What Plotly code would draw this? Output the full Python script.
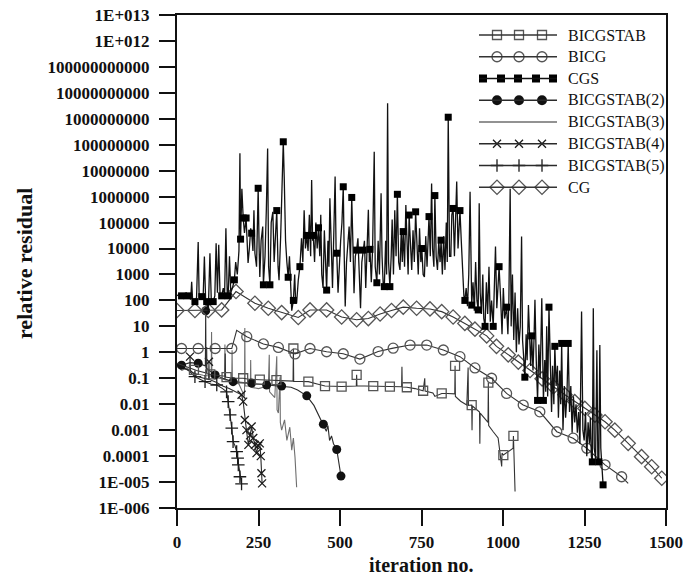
import plotly.graph_objects as go

# ---------------- data ----------------
cg_it = [0, 55, 96, 137, 181, 239, 280, 321, 372, 408, 459, 505, 551, 587, 623, 658, 694, 735, 776, 812,
         847, 883, 914, 950, 980, 1016, 1047, 1083, 1120, 1155, 1190, 1220, 1251, 1282, 1313, 1343, 1384, 1425, 1456, 1487]
cg_val = [41, 41, 41, 43, 220, 78, 50, 34, 22, 43, 43, 23, 18, 20, 30, 41, 55, 50, 47, 37,
          23, 13, 7.8, 4.3, 1.7, 0.8, 0.42, 0.2, 0.095, 0.047, 0.023, 0.0126, 0.0069, 0.0038, 0.0021, 0.001, 0.00031, 9.5e-5, 3.9e-5, 1.4e-5]
cg_marks = cg_it

bicg_it = [0, 14, 65, 117, 168, 183, 214, 265, 311, 362, 408, 459, 510, 561, 617, 663, 715, 766, 817, 868,
           914, 965, 1011, 1062, 1113, 1165, 1215, 1257, 1313, 1364, 1384]
bicg_val = [1.4, 1.4, 1.4, 1.4, 1.4, 7.0, 4.0, 2.1, 1.55, 0.87, 1.4, 1.05, 0.88, 0.55, 1.07, 1.45, 1.9, 1.9, 1.23, 0.68,
            0.25, 0.1, 0.026, 0.0093, 0.0051, 0.00087, 0.00049, 0.0002, 4.6e-5, 1.6e-5, 8.9e-6]
bicg_marks = [14, 65, 117, 168, 214, 265, 311, 362, 408, 459, 510, 561, 617, 663, 715, 766, 817, 868,
              914, 965, 1011, 1062, 1113, 1165, 1215, 1257, 1313, 1364]

bst_it = [0, 30, 52, 60, 90, 91, 92, 102, 120, 147,
          148, 149, 152, 175, 203, 225, 254, 280, 305, 330,
          356, 357, 358, 380, 403, 430, 454, 480, 505, 550,
          551, 552, 575, 602, 630, 653, 689, 690, 691, 705,
          730, 755, 760, 761, 785, 791, 812, 830, 852, 853,
          854, 870, 889, 893, 894, 904, 905, 906, 928, 929,
          930, 954, 955, 956, 970, 985, 996, 997, 1001, 1015,
          1031, 1032, 1033, 1037]
bst_val = [0.38, 0.28, 0.21, 0.2, 0.16, 1.6, 0.15, 0.14, 0.13, 0.12,
           0.9, 0.11, 0.11, 0.1, 0.1, 0.09, 0.088, 0.085, 0.085, 0.08,
           0.078, 1.4, 0.076, 0.075, 0.074, 0.06, 0.05, 0.049, 0.048, 0.05,
           0.135, 0.05, 0.05, 0.05, 0.048, 0.048, 0.047, 0.28, 0.046, 0.045,
           0.04, 0.033, 0.1, 0.032, 0.027, 0.02, 0.026, 0.026, 0.025, 0.3,
           0.02, 0.013, 0.0093, 0.26, 0.009, 0.0093, 0.001, 0.0085, 0.005, 0.0003,
           0.0045, 0.002, 0.068, 0.0015, 0.00087, 0.0005, 4e-5, 0.00013, 0.00011, 0.00015,
           0.0002, 0.0006, 0.0002, 4.3e-6]
bst_marks = [52, 102, 152, 203, 254, 305, 357, 403, 454, 505, 551, 602, 653, 705, 755, 812, 853, 904, 955, 1001, 1032]

cgs_it = [0, 8, 14, 20, 28, 35, 42, 45, 48, 55,
          60, 65, 68, 76, 80, 84, 88, 91, 96, 101,
          105, 111, 116, 120, 124, 128, 132, 137, 142, 146,
          150, 154, 157, 161, 165, 170, 176, 180, 185, 190,
          193, 195, 199, 203, 207, 212, 215, 218, 222, 226,
          229, 233, 236, 239, 244, 249, 252, 254, 258, 263,
          265, 270, 274, 278, 281, 285, 289, 294, 298, 302,
          306, 310, 313, 318, 322, 326, 329, 333, 337, 341,
          345, 349, 352, 357, 361, 364, 367, 372, 377, 382,
          386, 390, 394, 398, 402, 406, 410, 413, 416, 418,
          422, 426, 430, 434, 438, 441, 444, 448, 452, 455,
          459, 463, 466, 469, 473, 477, 481, 485, 488, 490,
          494, 498, 502, 506, 510, 513, 516, 520, 524, 528,
          532, 536, 540, 543, 547, 551, 555, 559, 563, 567,
          571, 575, 579, 583, 587, 590, 592, 596, 600, 605,
          608, 613, 617, 621, 626, 629, 633, 636, 640, 643,
          646, 649, 653, 657, 660, 664, 668, 672, 676, 680,
          684, 688, 691, 694, 698, 702, 706, 709, 712, 716,
          720, 724, 728, 732, 736, 740, 744, 748, 751, 755,
          759, 763, 767, 771, 773, 777, 781, 784, 788, 791,
          795, 799, 803, 807, 810, 814, 818, 822, 826, 829,
          832, 836, 840, 843, 847, 851, 855, 858, 862, 868,
          872, 875, 877, 880, 883, 887, 891, 895, 899, 902,
          904, 908, 912, 916, 920, 924, 927, 930, 934, 938,
          941, 945, 949, 953, 957, 961, 965, 970, 974, 977,
          981, 988, 993, 997, 1001, 1005, 1011, 1015, 1018, 1022,
          1025, 1029, 1033, 1037, 1041, 1045, 1049, 1053, 1057, 1060,
          1064, 1067, 1071, 1074, 1078, 1082, 1085, 1088, 1092, 1095,
          1098, 1102, 1106, 1110, 1114, 1119, 1122, 1124, 1128, 1131,
          1134, 1137, 1141, 1145, 1149, 1152, 1156, 1159, 1163, 1167,
          1170, 1174, 1177, 1180, 1184, 1188, 1192, 1196, 1200, 1204,
          1208, 1212, 1216, 1220, 1224, 1228, 1232, 1236, 1241, 1245,
          1249, 1253, 1257, 1261, 1265, 1268, 1271, 1274, 1277, 1280,
          1284, 1288, 1291, 1294, 1297, 1300, 1303, 1307]
cgs_val = [150, 180, 150, 120, 200, 150, 110, 520, 100, 90,
           130, 18000, 120, 140, 110, 4900, 90, 90, 40, 6600,
           120, 90, 150, 16000, 200, 14000, 180, 150, 300, 160,
           60000, 200, 150, 5000, 200, 300, 620, 3000, 1000, 8000,
           4.7e7, 23000, 2e6, 1.5e5, 40000, 1.5e5, 30000, 2800, 10000, 60000,
           39000, 8000, 3e5, 6600, 2000, 2.1e6, 10000, 800, 20000, 70000,
           400, 5000, 3e5, 7.2e7, 2000, 400, 1e5, 2.6e5, 3000, 50000,
           2.9e5, 2000, 600, 30000, 1e6, 1.3e8, 5e6, 20000, 3000, 780,
           5000, 200, 40, 100, 1000, 80, 80, 600, 2000, 25000,
           3000, 3e5, 10000, 32000, 8000, 2e5, 5000, 4.4e6, 20000, 32000,
           3000, 1e5, 10000, 63000, 5000, 2e5, 1000, 300, 50000, 3000,
           250, 20000, 2000, 8.7e5, 5000, 300, 40000, 5.9e6, 10000, 6600,
           200, 3000, 20000, 1e5, 2.4e6, 5000, 58, 3000, 20000, 70000,
           3000, 9.3e5, 10000, 190, 5000, 8700, 25000, 1000, 50, 3000,
           8700, 20000, 300, 10000, 3.1e5, 3000, 9300, 500, 10000, 5.4e7,
           2000, 480, 20000, 1000, 1.35e6, 5000, 300, 340, 20000, 1000,
           4e9, 3000, 340, 5000, 1.3e5, 1000, 3e5, 5000, 1.23e6, 3000,
           1500, 50000, 3000, 45000, 2000, 4.8e5, 10000, 1000, 1.95e5, 20000,
           1500, 50000, 3000, 2.6e5, 10000, 1000, 60000, 3000, 10000, 1000,
           800, 30000, 2000, 20000, 1.7e5, 5000, 3.2e6, 10000, 2000, 1.1e6,
           5000, 1500, 20000, 3000, 21000, 1000, 30000, 1500, 1e5, 3000,
           1.15e9, 5000, 5000, 2e5, 3.5e5, 5000, 1e5, 3.8e6, 10000, 2.9e5,
           20000, 3000, 250, 150, 100, 300, 60, 1000, 1.55e6, 200,
           66, 500, 40, 3000, 100, 43, 5.5e5, 200, 30, 1000,
           20, 10, 500, 30, 2000, 15, 100, 10, 300, 12000,
           50, 2000, 100, 5, 300, 20, 55, 5, 100, 2e6,
           10, 1000, 3, 200, 1, 50, 2, 10, 29000, 3,
           0.5, 0.11, 5, 0.5, 66, 1, 0.3, 4.3, 0.2, 3,
           105, 0.5, 0.014, 2, 0.1, 120, 0.05, 0.014, 0.5, 0.03,
           10, 0.02, 55, 0.1, 0.005, 0.3, 0.01, 1.7, 0.05, 0.3,
           0.003, 0.2, 0.01, 2.2, 0.001, 0.05, 0.003, 0.02, 2.2, 0.005,
           0.05, 0.0008, 0.02, 0.002, 0.01, 0.0008, 0.005, 0.0003, 37, 0.001,
           0.0004, 0.005, 0.0001, 0.002, 0.0003, 0.003, 0.0001, 6e-5, 50, 0.0002,
           8e-5, 1.2, 6e-5, 6e-5, 1.9, 0.0002, 3e-5, 7.8e-6]
cgs_marks = [14, 35, 55, 76, 91, 111, 137, 157, 176, 195, 203, 212, 229, 249, 265, 285, 306, 326, 341, 357,
             377, 398, 418, 434, 459, 490, 510, 536, 551, 571, 592, 613, 636, 653, 676, 694, 712, 732, 751, 773,
             791, 810, 832, 847, 868, 883, 904, 924, 945, 970, 988, 1011, 1067, 1088, 1106, 1124, 1141, 1159,
             1180, 1200, 1274, 1294, 1307]

b2_it = [0, 14, 40, 65, 87, 88, 89, 117, 140, 172, 200, 229, 250, 275, 300, 321, 350, 370, 398, 420,
         449, 458, 463, 468, 474, 480, 490, 496, 503]
b2_val = [0.32, 0.32, 0.4, 0.38, 0.3, 40, 0.25, 0.135, 0.1, 0.074, 0.068, 0.065, 0.06, 0.055, 0.052, 0.05, 0.045, 0.035, 0.021, 0.009,
          0.0017, 0.0009, 0.0015, 0.0004, 0.0006, 0.0003, 0.00018, 6e-5, 1.7e-5]
b2_marks = [14, 65, 88, 117, 172, 229, 275, 321, 398, 449, 490, 503]

b3_it = [0, 15, 30, 45, 60, 80, 105, 106, 107, 130,
         146, 147, 148, 168, 169, 170, 190, 207, 208, 209,
         225, 226, 227, 250, 265, 280, 283, 284, 295, 300,
         306, 307, 311, 316, 317, 321, 330, 337, 346, 352,
         357, 362, 367]
b3_val = [0.28, 0.2, 0.25, 0.17, 0.15, 0.13, 0.12, 6, 0.11, 0.1,
          0.09, 2, 0.085, 0.08, 1.2, 0.075, 0.06, 0.02, 8.7, 0.05,
          0.05, 0.5, 0.045, 0.04, 0.045, 0.04, 0.8, 0.03, 0.02, 0.018,
          0.7, 0.006, 0.0046, 0.11, 0.002, 0.001, 0.0025, 0.0004, 0.0013, 0.00017,
          0.0005, 9e-5, 6.3e-6]

b4_it = [0, 20, 39, 40, 41, 60, 80, 97, 98, 99, 120, 140, 160, 180, 198, 203, 208, 213, 219, 224,
         229, 234, 239, 244, 249, 254, 257, 259, 261]
b4_val = [0.3, 0.25, 0.2, 0.68, 0.2, 0.12, 0.1, 0.09, 0.43, 0.09, 0.07, 0.05, 0.04, 0.03, 0.023, 0.0126, 0.00245, 0.001, 0.00027, 0.00063,
          0.00138, 0.0005, 0.00027, 0.00013, 0.00025, 0.00031, 0.0001, 2.2e-5, 8.9e-6]
b4_marks = [40, 98, 198, 203, 208, 213, 219, 224, 229, 234, 239, 244, 249, 254, 257, 259, 261]

b5_it = [0, 20, 35, 55, 70, 86, 104, 122, 140, 152, 157, 163, 168, 172, 178, 183, 186, 188, 193, 198]
b5_val = [0.35, 0.25, 0.2, 0.115, 0.09, 0.074, 0.06, 0.055, 0.04, 0.03, 0.0126, 0.0039, 0.0012, 0.00036, 0.00025, 0.00015, 8.3e-5, 4.6e-5, 1.6e-5, 8.5e-6]
b5_marks = [55, 86, 122, 152, 157, 163, 168, 172, 183, 186, 188, 193, 198]

y_tick_exp = list(range(-6, 14))
y_tick_text = ["1E-006", "1E-005", "0.0001", "0.001", "0.01", "0.1", "1", "10", "100", "1000",
               "10000", "100000", "1000000", "10000000", "100000000", "1000000000", "10000000000",
               "100000000000", "1E+012", "1E+013"]
x_tick_vals = [0, 250, 500, 750, 1000, 1250, 1500]

# ---------------- figure ----------------
W, H = 688, 577
ML, MR, MT, MB = 177, 22, 15, 69
PW, PH = W - ML - MR, H - MT - MB
SERIF = "Liberation Serif"
INK = "#1a1a1a"
GRAYM = "#555555"

series = [
    # name, it, val, marks, symbol, msize, mcolor, linecolor, linewidth, nlegend
    ("BICGSTAB(3)", b3_it, b3_val, [], None, 0, None, "#6e6e6e", 1.1, 0),
    ("BICGSTAB(5)", b5_it, b5_val, b5_marks, "cross-thin-open", 9, INK, "#2a2a2a", 1.1, 3),
    ("BICGSTAB(4)", b4_it, b4_val, b4_marks, "x-thin-open", 8, INK, "#2a2a2a", 1.1, 3),
    ("BICGSTAB(2)", b2_it, b2_val, b2_marks, "circle", 9, "#111111", "#2a2a2a", 1.1, 3),
    ("BICGSTAB", bst_it, bst_val, bst_marks, "square-open", 9, GRAYM, "#333333", 1.1, 3),
    ("BICG", bicg_it, bicg_val, bicg_marks, "circle-open", 10, GRAYM, "#333333", 1.1, 3),
    ("CG", cg_it, cg_val, cg_marks, "diamond-open", 11, GRAYM, "#333333", 1.1, 3),
    ("CGS", cgs_it, cgs_val, cgs_marks, "square", 7, "#000000", "#111111", 1.3, 5),
]

def marker_style(sym, ms, mc, legend=False):
    if sym.endswith("-open"):
        return dict(symbol=sym, size=ms, color=mc, line=dict(width=1.3, color=mc))
    return dict(symbol=sym, size=ms + (1 if legend else 0), color=mc, line=dict(width=0))

fig = go.Figure()
for name, its, vals, marks, sym, ms, mc, lc, lw, nleg in series:
    assert len(its) == len(vals), name
    fig.add_trace(go.Scatter(x=its, y=vals, mode="lines", name=name, showlegend=False,
                             line=dict(color=lc, width=lw)))
    if marks:
        lookup = dict(zip(its, vals))
        mx = [m for m in marks if m in lookup]
        my = [lookup[m] for m in mx]
        fig.add_trace(go.Scatter(x=mx, y=my, mode="markers", showlegend=False,
                                 marker=marker_style(sym, ms, mc)))

# ---------------- custom legend (several sample symbols per entry, as drawn in the reference) -------------
legend_order = ["BICGSTAB", "BICG", "CGS", "BICGSTAB(2)", "BICGSTAB(3)", "BICGSTAB(4)", "BICGSTAB(5)", "CG"]
sdict = {s[0]: s for s in series}
def px2fx(px):
    return (px - ML) / PW
def py2fy(py):
    return (MT + PH - py) / PH
row0, drow = 35.0, 21.75
shapes, annots = [], []
for k, nm in enumerate(legend_order):
    name, its, vals, marks, sym, ms, mc, lc, lw, nleg = sdict[nm]
    py = row0 + k * drow
    fy = py2fy(py)
    shapes.append(dict(type="line", xref="paper", yref="paper", x0=px2fx(479), x1=px2fx(557), y0=fy, y1=fy,
                       line=dict(color=lc, width=1.3)))
    if nleg:
        xs = [497, 519, 542] if nleg == 3 else [483, 501, 518, 536, 553]
        fig.add_trace(go.Scatter(x=[px2fx(v) for v in xs], y=[fy] * len(xs), mode="markers",
                                 xaxis="x2", yaxis="y2", showlegend=False,
                                 marker=marker_style(sym, ms, mc, legend=True), hoverinfo="skip"))
    annots.append(dict(text=nm, xref="paper", yref="paper", x=px2fx(566), y=fy, xanchor="left", yanchor="middle",
                       showarrow=False, font=dict(family=SERIF, size=16, color="#111111")))

annots.append(dict(text="iteration no.", xref="paper", yref="paper", x=px2fx(421), y=py2fy(565),
                   xanchor="center", yanchor="middle", showarrow=False,
                   font=dict(family=SERIF, size=20, color="#111111", weight="bold")))
annots.append(dict(text="relative residual", xref="paper", yref="paper", x=px2fx(24), y=py2fy(264),
                   xanchor="center", yanchor="middle", showarrow=False, textangle=-90,
                   font=dict(family=SERIF, size=22, color="#111111", weight="bold")))

tickfont = dict(family=SERIF, size=17, color="#111111", weight="bold")
fig.update_layout(
    width=W, height=H, margin=dict(l=ML, r=MR, t=MT, b=MB, autoexpand=False),
    paper_bgcolor="white", plot_bgcolor="white", showlegend=False,
    shapes=shapes, annotations=annots,
    xaxis=dict(range=[0, 1500], tickvals=x_tick_vals, ticktext=[str(v) for v in x_tick_vals],
               showgrid=False, zeroline=False, showline=True, linewidth=2, linecolor="#111111", mirror=True,
               ticks="outside", ticklen=16, tickwidth=2, tickcolor="#111111", tickfont=tickfont,
               ticklabelstandoff=2),
    yaxis=dict(type="log", range=[-6, 13], tickvals=[10.0 ** e for e in y_tick_exp], ticktext=y_tick_text,
               showgrid=False, zeroline=False, showline=True, linewidth=2, linecolor="#111111", mirror=True,
               ticks="outside", ticklen=16, tickwidth=2, tickcolor="#111111", tickfont=tickfont,
               ticklabelstandoff=6),
    xaxis2=dict(overlaying="x", anchor="y2", range=[0, 1], visible=False),
    yaxis2=dict(overlaying="y", anchor="x2", range=[0, 1], visible=False),
)

fig.write_html("out.html")
